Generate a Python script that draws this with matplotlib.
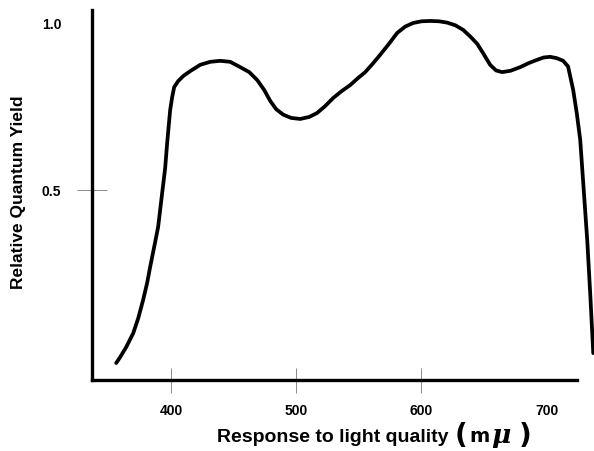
import matplotlib
matplotlib.use("Agg")
import matplotlib.pyplot as plt

plt.rcParams['font.family'] = ['Liberation Sans', 'DejaVu Sans']

# response curve (wavelength in m-mu, relative yield)
wavelength = [356.3, 359.5, 364.3, 369.9, 373.9, 377.8, 381.0, 383.4, 386.6, 389.8,
              393.0, 395.4, 397.0, 399.4, 401.0, 402.6, 405.8, 409.8, 415.4, 423.4,
              431.4, 439.3, 447.3, 455.3, 462.5, 468.9, 474.5, 479.3, 484.1, 489.6,
              496.0, 503.2, 510.4, 516.7, 523.2, 529.5, 536.0, 543.1, 549.0, 555.1,
              561.0, 567.0, 574.0, 580.6, 587.0, 593.4, 600.0, 607.0, 614.0, 620.5,
              627.0, 633.3, 639.0, 644.5, 649.5, 654.8, 659.5, 664.4, 671.0, 678.8,
              685.5, 692.3, 697.5, 702.7, 708.0, 713.1, 717.0, 721.1, 724.0, 726.7,
              729.5, 732.3, 734.8, 737.1]
qyield = [-0.021, -0.003, 0.027, 0.069, 0.114, 0.169, 0.220, 0.268, 0.328, 0.389,
          0.491, 0.566, 0.642, 0.741, 0.780, 0.810, 0.828, 0.843, 0.858, 0.877,
          0.886, 0.889, 0.886, 0.870, 0.855, 0.831, 0.801, 0.768, 0.743, 0.727,
          0.717, 0.714, 0.720, 0.732, 0.753, 0.777, 0.797, 0.816, 0.836, 0.855,
          0.880, 0.907, 0.940, 0.973, 0.992, 1.003, 1.008, 1.009, 1.008, 1.004,
          0.996, 0.982, 0.962, 0.940, 0.910, 0.877, 0.860, 0.855, 0.859, 0.870,
          0.882, 0.892, 0.899, 0.901, 0.897, 0.889, 0.872, 0.801, 0.730, 0.651,
          0.500, 0.349, 0.180, 0.009]

xticks = [400, 500, 600, 700]
yticks = [0.5, 1.0]

fig = plt.figure(figsize=(5.94, 4.51), dpi=100)
ax = fig.add_axes([92 / 594, 71 / 451, (594 - 92) / 594, 370 / 451])

ax.plot(wavelength, qyield, color='black', lw=2.7, solid_capstyle='round',
        solid_joinstyle='round', clip_on=False)

ax.set_xlim(337, 737.7)
ax.set_ylim(-0.072, 1.042)

for s in ['top', 'right']:
    ax.spines[s].set_visible(False)
ax.spines['left'].set_linewidth(2.4)
ax.spines['bottom'].set_linewidth(2.4)
ax.spines['bottom'].set_bounds(337, 724)

ax.set_xticks(xticks)
ax.set_xticklabels([str(t) for t in xticks], fontsize=10, fontweight='bold')
ax.tick_params(axis='x', direction='inout', length=18, width=0.6,
               color='#777777', pad=8)
ticks = ax.xaxis.get_major_ticks()
ticks[0].tick1line.set_color('#cccccc')
ticks[3].tick1line.set_visible(False)

ax.set_yticks(yticks)
ax.set_yticklabels(['0.5', '1.0'], fontsize=10, fontweight='bold')
ax.tick_params(axis='y', direction='inout', length=22, width=0.6,
               color='#777777', pad=11)
ax.yaxis.get_major_ticks()[1].tick1line.set_visible(False)

fig.text(19 / 594, 1 - 192 / 451, 'Relative Quantum Yield', rotation=90,
         ha='center', va='center', fontsize=12.5, fontweight='bold')
fig.text(333 / 594, 1 - 438 / 451, 'Response to light quality', ha='center',
         va='center', fontsize=14, fontweight='bold')
# unit, drawn as handwritten in the original
fig.text(461 / 594, 1 - 436 / 451, '(', ha='center', va='center',
         fontsize=20, fontweight='bold', family=['DejaVu Sans'])
fig.text(479 / 594, 1 - 437 / 451, 'm', ha='center', va='center',
         fontsize=14, fontweight='bold', family=['DejaVu Sans'])
fig.text(501 / 594, 1 - 436 / 451, '\u03bc', ha='center', va='center',
         fontsize=19, style='italic', fontweight='bold', family=['DejaVu Serif'])
fig.text(525 / 594, 1 - 436 / 451, ')', ha='center', va='center',
         fontsize=20, fontweight='bold', family=['DejaVu Sans'])

fig.savefig('out.png', dpi=100)
